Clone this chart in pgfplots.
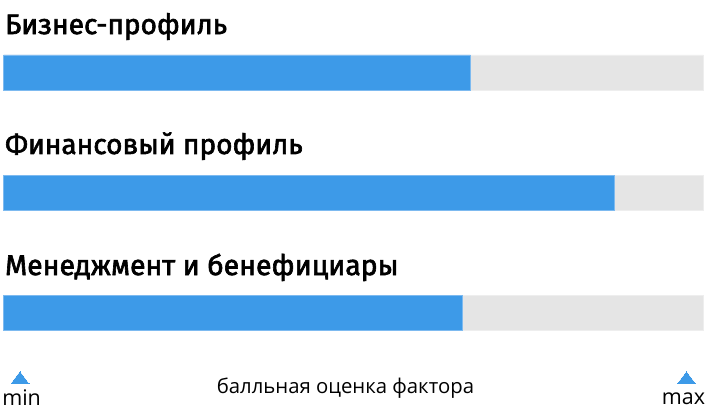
\documentclass[border=0pt]{standalone}
\usepackage{fontspec}
\setmainfont{Open Sans}
\newfontfamily\titlefont{Fira Sans}[FakeBold=2.2]
\usepackage{pgfplots}
\pgfplotsset{compat=1.18}

\definecolor{barblue}{HTML}{3D9AE8}
\definecolor{barblueedge}{HTML}{7DBAF0}
\definecolor{bargray}{HTML}{E5E5E5}
\definecolor{bargrayedge}{HTML}{EEEEEE}

\begin{document}
\begin{tikzpicture}
\begin{axis}[
    scale only axis,
    width=699.8pt, height=417pt,
    xmin=0, xmax=100,
    ymin=-0.603, ymax=2.866,
    y dir=reverse,
    hide axis,
    clip=false,
    xbar, bar width=35pt, bar shift=0pt,
]
% background (full scale)
\addplot[fill=bargray, draw=bargrayedge, line width=0.8pt]
    coordinates {(100,0) (100,1) (100,2)};
% factor scores
\addplot[fill=barblue, draw=barblueedge, line width=0.8pt]
    coordinates {(66.7,0) (87.3,1) (65.6,2)};
% min / max markers
\addplot[xbar=false, only marks, mark=triangle*, mark size=10.4pt,
    mark options={yscale=0.77, fill=barblue, draw=barblue, line width=0pt}]
    coordinates {(2.36,2.558) (97.6,2.558)};

\node[anchor=base west, inner sep=0, font=\titlefont\fontsize{28}{30}\selectfont]
    at (axis cs:0.2,-0.320) {Бизнес-профиль};
\node[anchor=base west, inner sep=0, font=\titlefont\fontsize{28}{30}\selectfont]
    at (axis cs:0.2,0.678) {Финансовый профиль};
\node[anchor=base west, inner sep=0, font=\titlefont\fontsize{28.4}{30}\selectfont]
    at (axis cs:0.2,1.685) {Менеджмент и бенефициары};

\node[anchor=base, inner sep=0, font=\fontsize{20.3}{22}\selectfont]
    at (axis cs:48.86,2.669) {балльная оценка фактора};
\node[anchor=base west, inner sep=0, font=\fontsize{21.5}{24}\selectfont]
    at (axis cs:-0.2,2.772) {min};
\node[anchor=base east, inner sep=0, font=\fontsize{21.5}{24}\selectfont]
    at (axis cs:100.3,2.766) {max};
\end{axis}
\pgfresetboundingbox
\path (-3.5pt,0pt) rectangle (702.5pt,417pt);
\end{tikzpicture}
\end{document}
